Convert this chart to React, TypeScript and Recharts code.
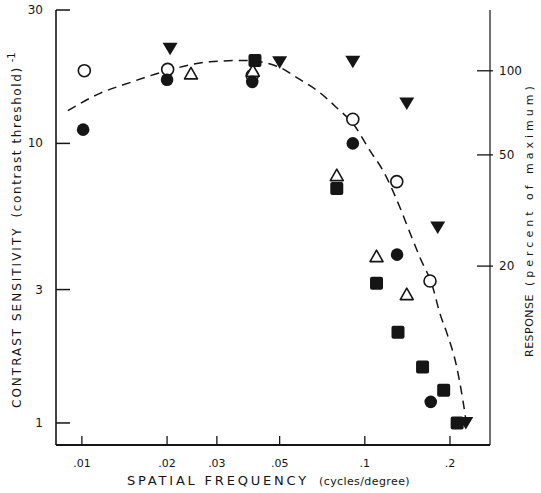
import { ComposedChart, XAxis, YAxis, Scatter, Line } from "recharts";

// spatial frequency ticks (cycles/degree)
const xTicks = [0.01, 0.02, 0.03, 0.05, 0.1, 0.2];
const xTickLabels = [".01", ".02", ".03", ".05", ".1", ".2"];
const sensTicks = [1, 3, 10, 30];
const respTicks = [20, 50, 100];

const openCircleFreq = [0.0102, 0.0201, 0.04, 0.0907, 0.1297, 0.17];
const openCircleSens = [18.2, 18.4, 17.5, 12.2, 7.3, 3.22];
const filledCircleFreq = [0.0101, 0.02, 0.04, 0.0907, 0.13, 0.171];
const filledCircleSens = [11.2, 16.9, 16.6, 10.0, 4.0, 1.19];
const downTriFreq = [0.0205, 0.05, 0.0907, 0.1407, 0.181, 0.2275];
const downTriSens = [21.8, 19.5, 19.6, 13.9, 5.0, 1.0];
const upTriFreq = [0.0243, 0.0402, 0.0796, 0.11, 0.1407];
const upTriSens = [17.8, 18.2, 7.7, 3.95, 2.89];
const squareFreq = [0.0409, 0.0796, 0.11, 0.131, 0.16, 0.19, 0.212];
const squareSens = [19.8, 6.9, 3.16, 2.11, 1.585, 1.31, 1.0];

// dashed fitted curve
const curveFreq = [0.00892, 0.01158, 0.01478, 0.02, 0.02834, 0.03767, 0.0501, 0.0575, 0.0693, 0.0803, 0.0907, 0.1041, 0.1158, 0.133, 0.1419, 0.1564, 0.1739, 0.1841, 0.1949, 0.2113, 0.222, 0.2285];
const curveSens = [13.1, 15.1, 16.5, 18.2, 19.6, 19.8, 18.7, 17.2, 15.2, 13.3, 11.8, 9.44, 8.01, 5.91, 5.01, 3.92, 3.06, 2.47, 2.1, 1.585, 1.21, 1.0];

const zip = (f: number[], s: number[]) => f.map((v, i) => ({ f: v, s: s[i] }));

const INK = "#151515";
const FONT = "'DejaVu Sans', sans-serif";

const OpenCircle = (p: any) => <circle cx={p.cx} cy={p.cy} r={6} fill="#fff" stroke={INK} strokeWidth={1.6} />;
const FilledCircle = (p: any) => <circle cx={p.cx} cy={p.cy} r={6.3} fill={INK} />;
const FilledSquare = (p: any) => <rect x={p.cx - 6.5} y={p.cy - 6.5} width={13} height={13} rx={2} fill={INK} />;
const DownTri = (p: any) => (
  <path d={`M${p.cx - 7.5},${p.cy - 6} L${p.cx + 7.5},${p.cy - 6} L${p.cx},${p.cy + 6.5} Z`} fill={INK} />
);
const UpTri = (p: any) => (
  <path d={`M${p.cx - 6.5},${p.cy + 5.5} L${p.cx + 6.5},${p.cy + 5.5} L${p.cx},${p.cy - 6} Z`} fill="#fff" stroke={INK} strokeWidth={1.6} strokeLinejoin="round" />
);

function BottomTick({ x, y, payload }: any) {
  const i = xTicks.indexOf(payload.value);
  return (
    <g>
      <line x1={x} x2={x} y1={y} y2={y - 9} stroke={INK} strokeWidth={1.3} />
      <text x={x} y={y + 22} textAnchor="middle" fontSize={11} fontFamily={FONT} fill={INK}>
        {xTickLabels[i]}
      </text>
    </g>
  );
}

function TopTick({ x, y }: any) {
  return <line x1={x} x2={x} y1={y} y2={y + 8} stroke={INK} strokeWidth={1.2} />;
}

function LeftTick({ x, y, payload }: any) {
  return (
    <g>
      <line x1={x} x2={x + 14} y1={y} y2={y} stroke={INK} strokeWidth={1.5} />
      <text x={x - 13} y={y + 4} textAnchor="end" fontSize={12} fontFamily={FONT} fill={INK}>
        {payload.value}
      </text>
    </g>
  );
}

function RightTick({ x, y, payload }: any) {
  return (
    <g>
      <line x1={x - 13} x2={x + 3} y1={y} y2={y} stroke={INK} strokeWidth={1.3} />
      <text x={x + 9} y={y + 4} textAnchor="start" fontSize={12} fontFamily={FONT} fill={INK}>
        {payload.value}
      </text>
    </g>
  );
}

export default function App() {
  return (
    <div style={{ position: "absolute", left: 0, top: 0, width: 541, height: 493, background: "#fff" }}>
      <ComposedChart width={541} height={493} margin={{ top: 10, right: 0, bottom: 0, left: 0 }}>
        <XAxis
          xAxisId="b"
          type="number"
          dataKey="f"
          scale="log"
          domain={[0.0081, 0.277]}
          allowDataOverflow
          ticks={xTicks}
          height={48}
          tickSize={0}
          tickMargin={0}
          tick={<BottomTick />}
          axisLine={{ stroke: INK, strokeWidth: 2 }}
        />
        <XAxis
          xAxisId="t"
          orientation="top"
          type="number"
          dataKey="f"
          scale="log"
          domain={[0.0081, 0.277]}
          allowDataOverflow
          ticks={xTicks}
          height={0}
          tickSize={0}
          tickMargin={0}
          tick={<TopTick />}
          axisLine={{ stroke: INK, strokeWidth: 1.3 }}
        />
        <YAxis
          yAxisId="l"
          type="number"
          dataKey="s"
          scale="log"
          domain={[0.834, 30]}
          allowDataOverflow
          ticks={sensTicks}
          width={56}
          tickSize={0}
          tickMargin={0}
          tick={<LeftTick />}
          axisLine={{ stroke: INK, strokeWidth: 1.6 }}
        />
        <YAxis
          yAxisId="r"
          orientation="right"
          type="number"
          dataKey="s"
          scale="log"
          domain={[4.58, 165]}
          allowDataOverflow
          ticks={respTicks}
          width={51}
          tickSize={0}
          tickMargin={0}
          tick={<RightTick />}
          axisLine={{ stroke: INK, strokeWidth: 1.2 }}
        />
        <Scatter xAxisId="b" yAxisId="r" data={[]} isAnimationActive={false} />
        <Line
          xAxisId="b"
          yAxisId="l"
          data={zip(curveFreq, curveSens)}
          dataKey="s"
          type="monotone"
          stroke={INK}
          strokeWidth={1.5}
          strokeDasharray="9 6"
          dot={false}
          activeDot={false}
          isAnimationActive={false}
        />
        <Scatter xAxisId="b" yAxisId="l" data={zip(openCircleFreq, openCircleSens)} shape={OpenCircle} isAnimationActive={false} />
        <Scatter xAxisId="b" yAxisId="l" data={zip(upTriFreq, upTriSens)} shape={UpTri} isAnimationActive={false} />
        <Scatter xAxisId="b" yAxisId="l" data={zip(filledCircleFreq, filledCircleSens)} shape={FilledCircle} isAnimationActive={false} />
        <Scatter xAxisId="b" yAxisId="l" data={zip(squareFreq, squareSens)} shape={FilledSquare} isAnimationActive={false} />
        <Scatter xAxisId="b" yAxisId="l" data={zip(downTriFreq, downTriSens)} shape={DownTri} isAnimationActive={false} />
      </ComposedChart>
      <svg width={541} height={493} style={{ position: "absolute", left: 0, top: 0, pointerEvents: "none" }}>
        <text transform="translate(21,408) rotate(-90)" fontFamily={FONT} fill={INK}>
          <tspan fontSize={12} letterSpacing={2}>CONTRAST SENSITIVITY</tspan>
          <tspan fontSize={12} letterSpacing={1.6} dx={9}>(contrast threshold)</tspan>
          <tspan fontSize={10} dx={4} dy={-6}>-1</tspan>
        </text>
        <text transform="translate(533,357) rotate(-90)" fontFamily={FONT} fill={INK}>
          <tspan fontSize={11} letterSpacing={0.5}>RESPONSE</tspan>
          <tspan fontSize={11} letterSpacing={4} dx={8}>(percent of maximum)</tspan>
        </text>
        <text x={127} y={485} fontFamily={FONT} fill={INK}>
          <tspan fontSize={13} letterSpacing={2.8}>SPATIAL FREQUENCY</tspan>
          <tspan fontSize={11} letterSpacing={0.4} dx={10}>(cycles/degree)</tspan>
        </text>
      </svg>
    </div>
  );
}
